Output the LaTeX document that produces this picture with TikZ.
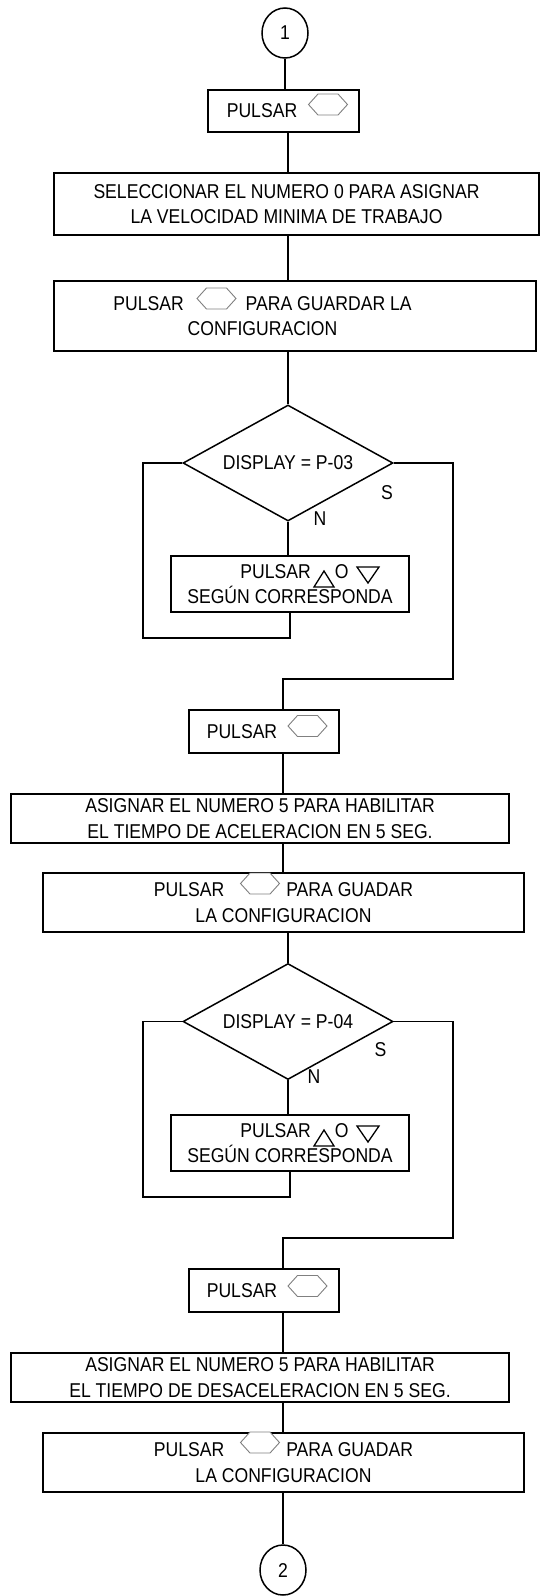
\documentclass[tikz,border=0pt]{standalone}
\usepackage{fontspec}
\setmainfont{Liberation Sans}[FakeStretch=0.88]
\usetikzlibrary{shapes.geometric}

\tikzset{
  hexkey/.pic = {\draw[gray, line width=0.9pt, fill=white] (-19.5,0) -- (-10,-10.5) -- (10,-10.5) -- (19.5,0) -- (10,10.5) -- (-10,10.5) -- cycle;},
  uptri/.pic = {\draw[line width=1.3pt] (-10,8) -- (10,8) -- (0,-8) -- cycle;},
  downtri/.pic = {\draw[line width=1.3pt] (-11,-8) -- (11,-8) -- (0,8) -- cycle;}
}

\begin{document}
\begin{tikzpicture}[x=1pt, y=-1pt, line width=1.5pt, font=\fontsize{20}{25.5}\selectfont,
  stepbox/.style = {shape=rectangle, draw, align=center, fill=white, inner sep=0pt},
  decision/.style = {shape=diamond, draw, aspect=2, inner sep=0pt, minimum width=210pt, minimum height=116pt, fill=white},
  connector/.style = {shape=ellipse, draw, inner sep=0pt, minimum width=46pt, minimum height=50pt},
  answer/.style = {inner sep=0pt},
  link/.style = {draw}]
\useasboundingbox (0,0) rectangle (541,1596);

% first block
\node[connector] (start) at (285,33) {1};
\node[stepbox, minimum width=151pt, minimum height=42pt] (press1) at (283.5,111) {PULSAR\hspace*{43pt}};
\node[stepbox, minimum width=485pt, minimum height=62pt] (select) at (296.5,204) {SELECCIONAR EL NUMERO 0 PARA ASIGNAR\hspace*{20pt}\\LA VELOCIDAD MINIMA DE TRABAJO\hspace*{20pt}};
\node[stepbox, minimum width=482pt, minimum height=70pt] (save1) at (295,316) {PULSAR\hspace{62pt}PARA GUARDAR LA\hspace*{65pt}\\CONFIGURACION\hspace*{65pt}};
\node[decision] (check1) at (288,463) {DISPLAY = P-03};
\node[answer] (yes1) at (387,493) {S};
\node[answer] (no1) at (320,519) {N};
\node[stepbox, minimum width=238pt, minimum height=56pt] (adjust1) at (290,584) {\hspace*{36pt}PULSAR\hspace{24pt}O\hspace*{27pt}\\SEG\'UN CORRESPONDA};

% second block
\node[stepbox, minimum width=150pt, minimum height=43pt] (press2) at (264,731.5) {PULSAR\hspace*{44pt}};
\node[stepbox, minimum width=498pt, minimum height=49pt] (accel) at (260,818.5) {ASIGNAR EL NUMERO 5 PARA HABILITAR\\EL TIEMPO DE ACELERACION EN 5 SEG.};
\node[stepbox, minimum width=481pt, minimum height=59pt] (save2) at (283.5,902.5) {PULSAR\hspace{62pt}PARA GUADAR\\LA CONFIGURACION};
\node[decision] (check2) at (288,1021.5) {DISPLAY = P-04};
\node[answer] (yes2) at (380.5,1050) {S};
\node[answer] (no2) at (314,1077) {N};
\node[stepbox, minimum width=238pt, minimum height=56pt] (adjust2) at (290,1143) {\hspace*{36pt}PULSAR\hspace{24pt}O\hspace*{27pt}\\SEG\'UN CORRESPONDA};

% third block
\node[stepbox, minimum width=150pt, minimum height=43pt] (press3) at (264,1290.5) {PULSAR\hspace*{44pt}};
\node[stepbox, minimum width=498pt, minimum height=49pt] (decel) at (260,1377.5) {ASIGNAR EL NUMERO 5 PARA HABILITAR\\EL TIEMPO DE DESACELERACION EN 5 SEG.};
\node[stepbox, minimum width=481pt, minimum height=59pt] (save3) at (283.5,1462.5) {PULSAR\hspace{62pt}PARA GUADAR\\LA CONFIGURACION};
\node[connector] (finish) at (283,1570) {2};

\coordinate (spine) at (288,0);
\coordinate (back1) at (143,638);
\coordinate (skip1) at (453,679);
\coordinate (join1) at (283,679);
\coordinate (back2) at (143,1197);
\coordinate (skip2) at (453,1238);
\coordinate (join2) at (283,1238);

% connectors
\draw[link] (start.south) -- (start.south |- press1.north);
\draw[link] (spine |- press1.south) -- (spine |- select.north);
\draw[link] (spine |- select.south) -- (spine |- save1.north);
\draw[link] (spine |- save1.south) -- (check1.north);
\draw[link] (check1.south) -- (check1.south |- adjust1.north);
\draw[link] (adjust1.south) |- (back1) |- (check1.west);
\draw[link] (check1.east) -| (skip1) -- (join1) -- (join1 |- press2.north);
\draw[link] (join1 |- press2.south) -- (join1 |- accel.north);
\draw[link] (join1 |- accel.south) -- (join1 |- save2.north);
\draw[link] (check2.north |- save2.south) -- (check2.north);
\draw[link] (check2.south) -- (check2.south |- adjust2.north);
\draw[link] (adjust2.south) |- (back2) |- (check2.west);
\draw[link] (check2.east) -| (skip2) -- (join2) -- (join2 |- press3.north);
\draw[link] (join2 |- press3.south) -- (join2 |- decel.north);
\draw[link] (join2 |- decel.south) -- (join2 |- save3.north);
\draw[link] (finish.north |- save3.south) -- (finish.north);

% key symbols
\pic (key1) at (328,104.5) {hexkey};
\pic (key2) at (216.5,298.5) {hexkey};
\pic (key3) at (307.5,726) {hexkey};
\pic (key4) at (260,883.5) {hexkey};
\pic (key5) at (307.5,1286) {hexkey};
\pic (key6) at (260,1442.5) {hexkey};
\pic (up1) at (324,579) {uptri};
\pic (down1) at (368,575) {downtri};
\pic (up2) at (324,1138) {uptri};
\pic (down2) at (368,1134) {downtri};
\end{tikzpicture}
\end{document}
